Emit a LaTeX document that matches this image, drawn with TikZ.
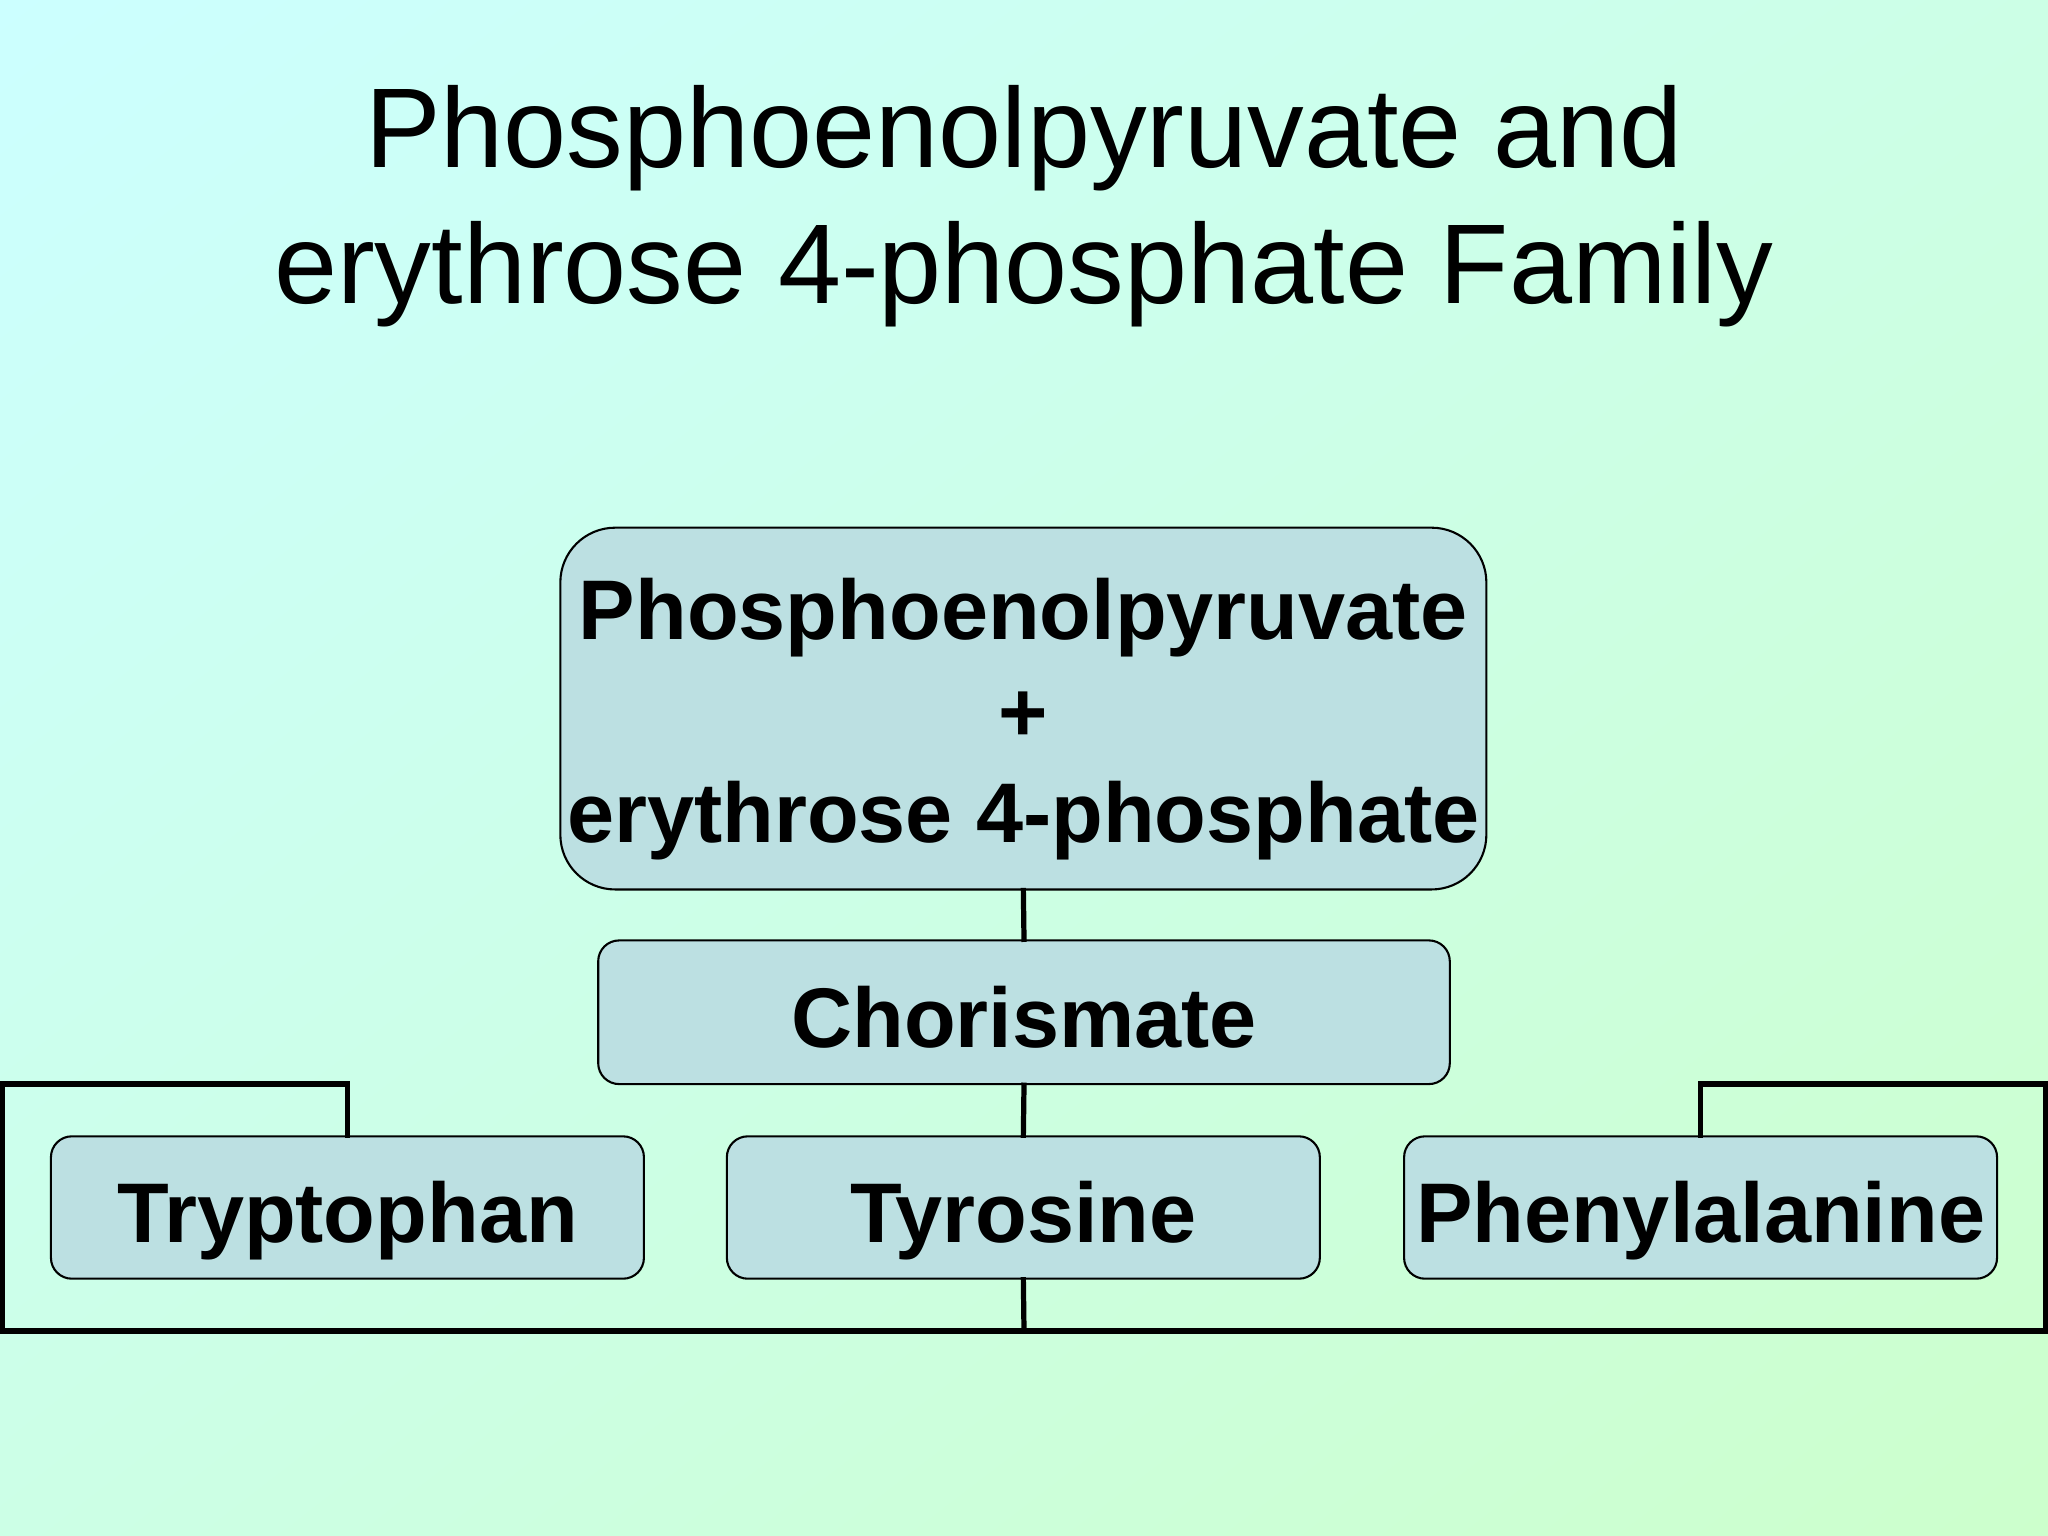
\documentclass[tikz,border=0pt]{standalone}
\usepackage{fontspec}
\setmainfont{Liberation Sans}
\usetikzlibrary{shadings}
\definecolor{bgA}{RGB}{204,255,255}
\definecolor{bgM}{RGB}{204,255,230}
\definecolor{bgB}{RGB}{204,255,204}
\definecolor{boxfill}{RGB}{188,224,226}
\tikzset{
  box/.style={draw=black, line width=0.8pt, fill=boxfill, rounded corners=8pt,
    inner sep=0pt, font=\fontsize{32.4}{38.75}\selectfont\bfseries,
    text height=27pt, text depth=0pt},
  bigbox/.style={draw=black, line width=0.8pt, fill=boxfill, rounded corners=21pt,
    inner sep=0pt, align=center, font=\fontsize{32.4}{38.75}\selectfont\bfseries},
  titletext/.style={font=\fontsize{43.4}{52}\selectfont, inner sep=0pt, anchor=base},
  conn/.style={draw=black, line width=2pt, line join=miter, line cap=rect}
}
\begin{document}
\begin{tikzpicture}[x=0.5pt, y=-0.5pt]
\shade[upper left=bgA, upper right=bgM, lower left=bgM, lower right=bgB]
  (0,0) rectangle (1568,1176);
\useasboundingbox (0,0) rectangle (1568,1176);

\node[titletext] (title1) at (784,128) {Phosphoenolpyruvate and};
\node[titletext] (title2) at (784,232) {erythrose 4-phosphate Family};

\coordinate (lt) at (1.5,830);
\coordinate (lb) at (1.5,1019);
\coordinate (rb) at (1566,1019);
\coordinate (rt) at (1566,830);
\coordinate (tp) at (266,870);
\coordinate (pp) at (1302,870);
\coordinate (mb) at (784,1019);

\node[bigbox, minimum width=354.5pt, minimum height=138.5pt] (pep) at (783.5,542.5)
  {\rule{0pt}{31.6pt}Phosphoenolpyruvate\\+\\erythrose 4-phosphate};
\node[box, minimum width=326pt, minimum height=55pt] (chor) at (784,775) {Chorismate};
\node[box, minimum width=227pt, minimum height=54.5pt] (tryp) at (266,924.5) {Tryptophan};
\node[box, minimum width=227pt, minimum height=54.5pt] (tyro) at (783.5,924.5) {Tyrosine};
\node[box, minimum width=227pt, minimum height=54.5pt] (phen) at (1302,924.5) {Phenylalanine};

\draw[conn] (pep.south) -- (chor.north);
\draw[conn] (chor.south) -- (tyro.north);
\draw[conn] (tyro.south) -- (mb);
\draw[conn] (tryp.north -| tp) |- (lt) -- (lb) -- (rb) -- (rt) -| (phen.north -| pp);
\end{tikzpicture}
\end{document}
